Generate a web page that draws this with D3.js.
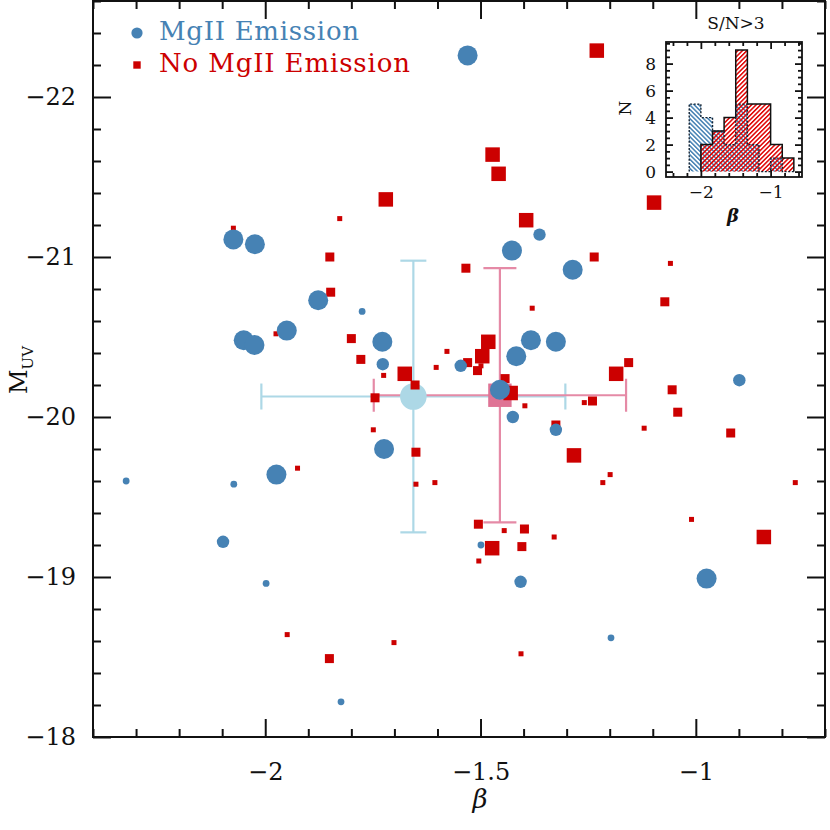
<!DOCTYPE html>
<html>
<head>
<meta charset="utf-8">
<script src="https://cdn.jsdelivr.net/npm/d3@7"></script>
<style>
  body { margin: 0; background: #fff; }
  text { font-family: "DejaVu Serif", serif; }
</style>
</head>
<body>
<div id="main"></div>
<script>
// ---------------- data -------------------------------------//

// MgII emitters (blue circles); size class 1 = small, 2 = medium, 3 = large
let betaBlue = [-1.530, -1.363, -1.427, -1.286, -2.074, -2.024, -1.877, -1.775, -1.950, -2.050,
                -2.025, -1.728, -1.727, -1.974, -1.724, -2.323, -2.073, -2.098, -1.998, -1.383,
                -1.325, -1.417, -1.546, -1.455, -1.425, -0.899, -1.325, -0.975, -1.499, -1.407,
                -1.824, -1.197];
let muvBlue = [-22.26, -21.14, -21.04, -20.92, -21.11, -21.08, -20.73, -20.66, -20.54, -20.48,
               -20.45, -20.47, -20.33, -19.64, -19.80, -19.60, -19.58, -19.22, -18.96, -20.48,
               -20.47, -20.38, -20.32, -20.17, -20.00, -20.23, -19.92, -18.99, -19.20, -18.97,
               -18.22, -18.62];
let sizeBlue = [3, 2, 3, 3, 3, 3, 3, 1, 3, 3,
                3, 3, 2, 3, 3, 1, 1, 2, 1, 3,
                3, 3, 2, 3, 2, 2, 2, 3, 1, 2,
                1, 1];

// no MgII emission (red squares)
let betaRed = [-1.230, -1.472, -1.458, -1.720, -1.827, -1.394, -1.850, -1.534, -1.236, -2.074,
               -1.848, -1.975, -1.800, -1.778, -1.725, -1.676, -1.652, -1.745, -1.749, -1.650,
               -1.925, -1.650, -1.606, -1.578, -1.603, -1.072, -1.380, -1.482, -1.496, -1.530,
               -1.499, -1.507, -1.443, -1.430, -1.397, -1.240, -1.259, -1.185, -1.156, -1.055,
               -1.042, -1.120, -0.919, -1.325, -1.283, -1.199, -1.216, -0.769, -1.010, -0.842,
               -1.505, -1.445, -1.398, -1.329, -1.473, -1.404, -1.504, -1.949, -1.851, -1.701,
               -1.406, -1.097, -1.059];
let muvRed = [-22.29, -21.64, -21.52, -21.36, -21.24, -21.23, -21.00, -20.93, -21.00, -21.18,
              -20.78, -20.52, -20.49, -20.36, -20.26, -20.27, -20.20, -20.12, -19.92, -19.78,
              -19.68, -19.58, -19.59, -20.41, -20.31, -20.72, -20.68, -20.47, -20.38, -20.34,
              -20.32, -20.29, -20.24, -20.15, -20.07, -20.10, -20.09, -20.27, -20.34, -20.17,
              -20.03, -19.93, -19.90, -19.95, -19.76, -19.64, -19.59, -19.59, -19.36, -19.25,
              -19.33, -19.29, -19.30, -19.25, -19.18, -19.19, -19.10, -18.64, -18.49, -18.59,
              -18.52, -21.34, -20.96];
let sizeRed = [3, 3, 3, 3, 1, 3, 2, 2, 2, 1,
               2, 1, 2, 2, 1, 3, 2, 2, 1, 2,
               1, 1, 1, 1, 1, 2, 1, 3, 3, 2,
               1, 2, 2, 3, 1, 2, 1, 3, 2, 2,
               2, 1, 2, 2, 3, 1, 1, 1, 1, 3,
               2, 1, 2, 1, 3, 2, 1, 1, 2, 1,
               1, 3, 1];

// sample means with their spread: [emitters, non-emitters]
let meanBeta = [-1.656, -1.455];
let meanMuv = [-20.128, -20.136];
let errBeta = [0.353, 0.293];
let errMuv = [0.849, 0.794];

// inset histogram, S/N>3
let histEdges = [-2.167, -2.0, -1.833, -1.667, -1.5, -1.333, -1.167, -1.0, -0.833, -0.667];
let histBlue = [5, 4, 3, 2, 5, 2, 0, 1, 0];
let histRed = [0, 2, 3, 4, 9, 5, 5, 2, 1];

let xMajor = [-2, -1.5, -1];
let yMajor = [-22, -21, -20, -19, -18];
let insetXMajor = [-2, -1];
let insetYMajor = [0, 2, 4, 6, 8];

// ---------------- global formatting vars -----------------//

let width = 830;
let height = 830;
let blue = "steelblue";
let red = "#cc0000";
let ink = "#111";

let svg = d3.select("#main")
  .append("svg")
  .attr("width", width)
  .attr("height", height);

let x = d3.scaleLinear().domain([-2.4, -0.7]).range([93, 825]);
let y = d3.scaleLinear().domain([-18, -22.6]).range([737, 1]);

let radius = d3.scaleOrdinal().domain([1, 2, 3]).range([3.4, 6.2, 10]);
let side = d3.scaleOrdinal().domain([1, 2, 3]).range([5, 9, 14.5]);

// minor tick helpers
function steps(a, b, s) {
  let n = Math.round((b - a) / s);
  return d3.range(n + 1).map(i => +(a + i * s).toFixed(4));
}

// draws ticks on all four sides of a box, labels only bottom/left
function drawFrame(g, xs, ys, o) {
  let [x0, x1] = xs.range();
  let [y0, y1] = ys.range();
  let xMinor = steps(o.xMinor[0], o.xMinor[1], o.xMinor[2]).filter(v => !o.xMaj.includes(v));
  let yMinor = steps(o.yMinor[0], o.yMinor[1], o.yMinor[2]).filter(v => !o.yMaj.includes(v));

  let sets = [
    [d3.axisBottom(xs), `translate(0,${y0})`, o.xMaj, xMinor, true],
    [d3.axisTop(xs), `translate(0,${y1})`, o.xMaj, xMinor, false],
    [d3.axisLeft(ys), `translate(${x0},0)`, o.yMaj, yMinor, true],
    [d3.axisRight(ys), `translate(${x1},0)`, o.yMaj, yMinor, false]
  ];
  sets.forEach(function(s, i) {
    let ax = s[0];
    let isX = i < 2;
    g.append("g")
      .attr("transform", s[1])
      .call(ax.tickValues(s[2]).tickSizeInner(-o.major).tickSizeOuter(0)
        .tickPadding(isX ? o.padX : o.padY)
        .tickFormat(s[4] ? d3.format("") : ""))
      .call(a => a.select(".domain").remove())
      .call(a => a.selectAll("line").attr("stroke", ink).attr("stroke-width", o.lw))
      .call(a => a.selectAll("text").attr("font-size", o.font).attr("fill", ink)
        .attr("font-family", "DejaVu Serif"));
    g.append("g")
      .attr("transform", s[1])
      .call(ax.tickValues(s[3]).tickSizeInner(-o.minor).tickSizeOuter(0).tickFormat(""))
      .call(a => a.select(".domain").remove())
      .call(a => a.selectAll("line").attr("stroke", ink).attr("stroke-width", o.lw));
  });
  g.append("rect")
    .attr("x", x0).attr("y", y1)
    .attr("width", x1 - x0).attr("height", y0 - y1)
    .attr("fill", "none")
    .attr("stroke", ink)
    .attr("stroke-width", o.lw);
}

// ---------------- main panel -----------------//

let main = svg.append("g");

drawFrame(main, x, y, {
  xMaj: xMajor, yMaj: yMajor,
  xMinor: [-2.4, -0.7, 0.1], yMinor: [-22.6, -18, 0.2],
  major: 18, minor: 8, lw: 2, font: 24, padX: 26, padY: 17
});

// error bars of the two sample means
let errColors = ["#add8e6", "#e58aa6"];
let capHalf = [13, 16.5];
meanBeta.forEach(function(b, i) {
  let g = main.append("g").attr("stroke", errColors[i]).attr("stroke-width", 2.2).attr("fill", "none");
  let cx = x(b), cy = y(meanMuv[i]);
  let xl = x(b - errBeta[i]), xr = x(b + errBeta[i]);
  let yt = y(meanMuv[i] - errMuv[i]), yb = y(meanMuv[i] + errMuv[i]);
  g.append("line").attr("x1", xl).attr("x2", xr).attr("y1", cy).attr("y2", cy);
  g.append("line").attr("x1", cx).attr("x2", cx).attr("y1", yt).attr("y2", yb);
  [xl, xr].forEach(v => g.append("line").attr("x1", v).attr("x2", v)
    .attr("y1", cy - capHalf[i]).attr("y2", cy + capHalf[i]));
  [yt, yb].forEach(v => g.append("line").attr("y1", v).attr("y2", v)
    .attr("x1", cx - capHalf[i]).attr("x2", cx + capHalf[i]));
});

main.append("circle")
  .attr("cx", x(meanBeta[0])).attr("cy", y(meanMuv[0]))
  .attr("r", 13.3)
  .attr("fill", "lightblue");

main.append("rect")
  .attr("x", x(meanBeta[1]) - 11.7).attr("y", y(meanMuv[1]) - 11.7)
  .attr("width", 23.4).attr("height", 23.4)
  .attr("fill", "#df7395");

// red squares
main.selectAll(".red")
  .data(betaRed.map((b, i) => ({beta: b, muv: muvRed[i], s: sizeRed[i]})))
  .join("rect")
  .attr("class", "red")
  .attr("x", d => x(d.beta) - side(d.s) / 2)
  .attr("y", d => y(d.muv) - side(d.s) / 2)
  .attr("width", d => side(d.s))
  .attr("height", d => side(d.s))
  .attr("fill", red);

// blue circles
main.selectAll(".blue")
  .data(betaBlue.map((b, i) => ({beta: b, muv: muvBlue[i], s: sizeBlue[i]})))
  .join("circle")
  .attr("class", "blue")
  .attr("cx", d => x(d.beta))
  .attr("cy", d => y(d.muv))
  .attr("r", d => radius(d.s))
  .attr("fill", blue);

// legend
main.append("circle").attr("cx", 137).attr("cy", 33).attr("r", 5.6).attr("fill", blue);
main.append("text").attr("x", 159).attr("y", 40).attr("font-size", 26)
  .attr("fill", blue).attr("textLength", 200).text("MgII Emission");
main.append("rect").attr("x", 133.3).attr("y", 61.3).attr("width", 7.4).attr("height", 7.4).attr("fill", red);
main.append("text").attr("x", 159).attr("y", 72).attr("font-size", 26)
  .attr("fill", red).attr("textLength", 251).text("No MgII Emission");

// axis titles
main.append("text")
  .attr("x", 480).attr("y", 808)
  .attr("text-anchor", "middle")
  .attr("font-size", 26)
  .attr("font-style", "italic")
  .attr("fill", ink)
  .text("β");

let ylab = main.append("text")
  .attr("transform", "translate(27,370) rotate(-90)")
  .attr("text-anchor", "middle")
  .attr("font-size", 24)
  .attr("fill", ink);
ylab.append("tspan").text("M");
ylab.append("tspan").attr("font-size", 15).attr("dy", 6).text("UV");

// ---------------- inset histogram -----------------//

let xi = d3.scaleLinear().domain([-2.5, -0.55]).range([666, 802]);
let yi = d3.scaleLinear().domain([-0.4, 9.6]).range([177, 42]);

let defs = svg.append("defs");
function hatch(id, color, angle) {
  let p = defs.append("pattern")
    .attr("id", id)
    .attr("patternUnits", "userSpaceOnUse")
    .attr("width", 3.2).attr("height", 10)
    .attr("patternTransform", `rotate(${angle})`);
  p.append("rect").attr("width", 1.5).attr("height", 10).attr("fill", color);
}
hatch("hatchBlue", "#4682b4", -45);
hatch("hatchRed", "#e00000", 45);

let inset = svg.append("g");
inset.append("rect")
  .attr("x", 666).attr("y", 42).attr("width", 136).attr("height", 135)
  .attr("fill", "#fff");

function stepPoints(counts) {
  let first = counts.findIndex(c => c > 0);
  let pts = [[histEdges[first], 0]];
  for (let i = first; i < counts.length; i++) pts.push([histEdges[i], counts[i]]);
  pts.push([histEdges[counts.length], 0]);
  return pts;
}
let step = d3.line().x(d => xi(d[0])).y(d => yi(d[1])).curve(d3.curveStepAfter);

inset.append("path").attr("d", step(stepPoints(histBlue)) + "Z").attr("fill", "url(#hatchBlue)");
inset.append("path").attr("d", step(stepPoints(histRed)) + "Z").attr("fill", "url(#hatchRed)");
inset.append("path").attr("d", step(stepPoints(histRed)))
  .attr("fill", "none").attr("stroke", ink).attr("stroke-width", 1.5);
inset.append("path").attr("d", step(stepPoints(histBlue)))
  .attr("fill", "none").attr("stroke", "#123").attr("stroke-width", 1.4)
  .attr("stroke-dasharray", "2,1.6");

drawFrame(inset, xi, yi, {
  xMaj: insetXMajor, yMaj: insetYMajor,
  xMinor: [-2.4, -0.6, 0.2], yMinor: [-0.0, 9.5, 0.5],
  major: 7, minor: 4, lw: 1.8, font: 17, padX: 9, padY: 10
});

inset.append("text")
  .attr("x", 736).attr("y", 29)
  .attr("text-anchor", "middle")
  .attr("font-size", 17)
  .attr("fill", ink)
  .text("S/N>3");

inset.append("text")
  .attr("transform", "translate(631,108) rotate(-90)")
  .attr("text-anchor", "middle")
  .attr("font-size", 17)
  .attr("fill", ink)
  .text("N");

inset.append("text")
  .attr("x", 733).attr("y", 222)
  .attr("text-anchor", "middle")
  .attr("font-size", 18)
  .attr("font-style", "italic")
  .attr("font-weight", "bold")
  .attr("fill", ink)
  .text("β");
</script>
</body>
</html>
